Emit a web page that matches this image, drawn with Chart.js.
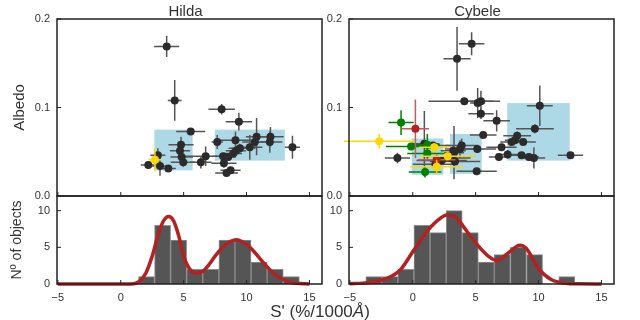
<!DOCTYPE html>
<html>
<head>
<meta charset="utf-8">
<script src="https://cdn.jsdelivr.net/npm/chart.js@4.4.1/dist/chart.umd.min.js"></script>
<style>
  body { margin: 0; background: #fff; }
  #wrap { position: relative; width: 640px; height: 320px; font-family: "Liberation Sans", Arial, sans-serif; }
  #wrap canvas { position: absolute; left: 0; top: 0; }
  #xlabel { position: absolute; left: 0; top: 303px; width: 640px; text-align: center; font-size: 17px; color: #333; line-height: 18px; }
</style>
</head>
<body>
<div id="wrap">
  <canvas id="hilda-top" width="640" height="320"></canvas>
  <canvas id="cybele-top" width="640" height="320"></canvas>
  <canvas id="hilda-hist" width="640" height="320"></canvas>
  <canvas id="cybele-hist" width="640" height="320"></canvas>
  <div id="xlabel">S' (%/1000<i>Å</i>)</div>
</div>
<script>
// tick labels
let sTicks = [-5, 0, 5, 10, 15];
let albedoTicks = [0, 0.1, 0.2];
let countTicks = [0, 5, 10];

// scatter points: [S', albedo, S' error, albedo error]
let hildaDark = [
  [3.65, 0.169, 1.00, 0.012], [4.29, 0.108, 0.55, 0.023], [8.02, 0.098, 1.05, 0.006],
  [9.39, 0.084, 1.05, 0.010], [5.56, 0.073, 1.15, 0.003], [4.79, 0.058, 1.00, 0.009],
  [4.71, 0.051, 0.80, 0.006], [4.84, 0.044, 0.90, 0.005], [4.97, 0.038, 1.00, 0.005],
  [2.19, 0.035, 0.60, 0.004], [3.12, 0.034, 0.70, 0.011], [3.78, 0.031, 0.60, 0.003],
  [2.95, 0.046, 0.60, 0.008], [7.67, 0.061, 0.45, 0.008], [6.75, 0.045, 1.80, 0.011],
  [6.37, 0.038, 0.85, 0.007], [8.14, 0.045, 0.80, 0.004], [8.20, 0.037, 1.00, 0.005],
  [8.41, 0.026, 0.90, 0.003], [8.73, 0.029, 0.80, 0.003], [9.12, 0.063, 1.30, 0.010],
  [8.54, 0.044, 0.60, 0.004], [8.94, 0.048, 0.70, 0.004], [9.15, 0.051, 0.80, 0.005],
  [9.47, 0.054, 0.90, 0.005], [10.26, 0.055, 1.00, 0.014], [10.80, 0.067, 0.85, 0.021],
  [10.66, 0.061, 1.00, 0.008], [11.90, 0.067, 1.05, 0.011], [11.85, 0.061, 1.00, 0.012],
  [13.65, 0.055, 0.60, 0.013]
];
let hildaYellow = [[2.72, 0.041, 0.50, 0.013]];

let cybeleDark = [
  [4.68, 0.172, 1.02, 0.013], [3.52, 0.155, 1.08, 0.036], [4.10, 0.107, 2.85, 0.004],
  [5.16, 0.105, 0.60, 0.017], [5.42, 0.107, 1.00, 0.012], [5.42, 0.093, 1.00, 0.006],
  [6.67, 0.085, 1.06, 0.012], [10.10, 0.102, 1.03, 0.023], [9.71, 0.076, 1.50, 0.005],
  [5.60, 0.069, 1.06, 0.004], [8.30, 0.068, 1.10, 0.005], [8.12, 0.063, 0.80, 0.004],
  [8.78, 0.061, 1.00, 0.004], [7.86, 0.061, 0.90, 0.003], [7.06, 0.055, 1.20, 0.004],
  [5.13, 0.053, 1.50, 0.003], [3.89, 0.057, 1.30, 0.008], [3.75, 0.053, 1.20, 0.010],
  [3.22, 0.051, 1.00, 0.006], [3.28, 0.049, 0.80, 0.030], [7.54, 0.047, 0.90, 0.005],
  [6.85, 0.044, 0.80, 0.004], [8.65, 0.046, 1.00, 0.003], [9.23, 0.044, 0.80, 0.004],
  [9.63, 0.043, 0.90, 0.012], [12.54, 0.046, 1.00, 0.003], [5.08, 0.028, 1.60, 0.003],
  [-1.22, 0.043, 1.00, 0.006], [0.92, 0.059, 1.20, 0.037], [3.10, 0.043, 1.50, 0.004],
  [3.36, 0.039, 2.00, 0.004], [1.60, 0.057, 1.40, 0.004], [2.30, 0.040, 2.00, 0.005],
  [1.80, 0.036, 1.80, 0.004]
];
let cybeleGreen = [
  [-0.93, 0.083, 1.00, 0.014], [-0.13, 0.056, 2.00, 0.004], [1.16, 0.058, 1.00, 0.012],
  [1.16, 0.048, 1.60, 0.006], [0.98, 0.027, 1.30, 0.006]
];
let cybeleRed = [[0.21, 0.076, 1.08, 0.033], [1.90, 0.041, 1.50, 0.006]];
let cybeleYellow = [
  [-2.67, 0.062, 2.80, 0.008], [1.71, 0.055, 1.20, 0.005],
  [2.78, 0.045, 2.20, 0.004], [1.90, 0.033, 2.10, 0.008]
];

// light blue boxes: [S' min, S' max, albedo min, albedo max]
let hildaBoxes = [[2.67, 5.71, 0.029, 0.075], [7.48, 13.04, 0.040, 0.075]];
let cybeleBoxes = [[-0.08, 2.43, 0.024, 0.065], [2.96, 5.48, 0.025, 0.070], [7.51, 12.48, 0.040, 0.105]];

// histograms
let hildaEdges = [1.41, 2.69, 3.96, 5.24, 6.52, 7.80, 9.08, 10.36, 11.64, 12.92, 14.20];
let hildaCounts = [1, 8, 6, 2, 2, 6, 6, 3, 2, 1];
let cybeleEdges = [-3.73, -2.46, -1.19, 0.08, 1.38, 2.65, 3.94, 5.21, 6.48, 7.75, 9.05, 10.32, 11.61, 12.88];
let cybeleCounts = [1, 1, 2, 8, 7, 10, 7, 3, 4, 5, 4, 0, 1];

// density curves
let hildaCurveX = [-5, 0, 1, 1.5, 2, 2.5, 3, 3.4, 3.8, 4.2, 4.6, 5, 5.5, 6, 6.5, 7, 7.5, 8, 8.5, 9.2, 10, 10.5, 11, 11.5, 12, 12.5, 13, 13.5, 14, 15];
let hildaCurveY = [0, 0, 0.05, 0.4, 1.5, 3.8, 6.9, 8.6, 9.2, 8.6, 6.6, 3.8, 2.0, 1.5, 1.7, 2.6, 3.8, 4.8, 5.6, 6.05, 5.4, 4.6, 3.6, 2.6, 1.7, 1.0, 0.55, 0.25, 0.1, 0];
let cybeleCurveX = [-5, -4, -3, -2, -1, 0, 1, 2, 2.7, 3.5, 4, 5, 6, 6.7, 7.5, 8.5, 9, 10, 11, 12, 13, 15];
let cybeleCurveY = [0.05, 0.12, 0.35, 0.8, 1.9, 4.4, 6.9, 8.7, 9.4, 9.0, 7.9, 5.6, 3.8, 3.2, 4.1, 5.3, 4.9, 2.1, 0.6, 0.12, 0.02, 0];

let font = '"Liberation Sans", Arial, sans-serif';
let ink = '#333';

//frame, inward ticks, boxes and panel title
Chart.register({
  id: 'frame',
  beforeDatasetsDraw(chart, args, opts) {
    let ctx = chart.ctx, x = chart.scales.x, y = chart.scales.y;
    ctx.save();
    ctx.fillStyle = '#add8e6';
    (opts.boxes || []).forEach(function(b) {
      let x1 = x.getPixelForValue(b[0]), x2 = x.getPixelForValue(b[1]);
      let y1 = y.getPixelForValue(b[3]), y2 = y.getPixelForValue(b[2]);
      ctx.fillRect(x1, y1, x2 - x1, y2 - y1);
    });
    ctx.restore();
  },
  afterDraw(chart, args, opts) {
    let ctx = chart.ctx, a = chart.chartArea;
    ctx.save();
    ctx.strokeStyle = '#222';
    ctx.lineWidth = 1.5;
    ctx.strokeRect(a.left, a.top, a.right - a.left, a.bottom - a.top);
    ctx.beginPath();
    chart.scales.x.ticks.forEach(function(t) {
      let px = chart.scales.x.getPixelForValue(t.value);
      ctx.moveTo(px, a.bottom);
      ctx.lineTo(px, a.bottom - 4);
    });
    chart.scales.y.ticks.forEach(function(t) {
      let py = chart.scales.y.getPixelForValue(t.value);
      ctx.moveTo(a.left, py);
      ctx.lineTo(a.left + 4, py);
    });
    ctx.lineWidth = 1;
    ctx.stroke();
    if (opts.title) {
      ctx.fillStyle = ink;
      ctx.font = '15px ' + font;
      ctx.textAlign = 'center';
      ctx.textBaseline = 'middle';
      ctx.fillText(opts.title, (a.left + a.right) / 2 - 4, 12);
    }
    ctx.restore();
  }
});

//error bars drawn just under each dataset's points
Chart.register({
  id: 'errorBars',
  beforeDatasetDraw(chart, args) {
    let ds = chart.data.datasets[args.index];
    if (!ds.err) return;
    let ctx = chart.ctx, x = chart.scales.x, y = chart.scales.y;
    ctx.save();
    ctx.strokeStyle = ds.errColor;
    ctx.lineWidth = 1.5;
    ds.err.forEach(function(p) {
      let px = x.getPixelForValue(p[0]), py = y.getPixelForValue(p[1]);
      ctx.beginPath();
      ctx.moveTo(x.getPixelForValue(p[0] - p[2]), py);
      ctx.lineTo(x.getPixelForValue(p[0] + p[2]), py);
      ctx.moveTo(px, y.getPixelForValue(p[1] - p[3]));
      ctx.lineTo(px, y.getPixelForValue(p[1] + p[3]));
      ctx.stroke();
    });
    ctx.restore();
  }
});

let pts = (list) => list.map(p => ({x: p[0], y: p[1]}));
let setTicks = (arr) => function(scale) { scale.ticks = arr.map(v => ({value: v})); };
let minus = (v) => String(v).replace('-', '\u2212');

let pointSet = (list, color, errColor) => ({
  data: pts(list), err: list, errColor: errColor,
  backgroundColor: color, borderWidth: 0, pointRadius: 4
});

function scatterPanel(id, padLeft, padRight, yWidth, title, datasets, boxes, yTitle) {
  new Chart(id, {
    type: 'scatter',
    data: { datasets: datasets },
    options: {
      responsive: false,
      animation: false,
      events: [],
      layout: { padding: { left: padLeft, right: padRight, top: 19, bottom: 124 } },
      plugins: {
        legend: { display: false },
        tooltip: { enabled: false },
        frame: { boxes: boxes, title: title }
      },
      scales: {
        x: { type: 'linear', display: false, min: -5.07, max: 16, afterBuildTicks: setTicks(sTicks) },
        y: {
          min: 0, max: 0.2,
          afterBuildTicks: setTicks(albedoTicks),
          afterFit: function(s) { s.width = yWidth; },
          grid: { display: false, drawTicks: false },
          border: { display: false },
          ticks: { padding: 7, color: ink, font: { family: font, size: 11 }, callback: v => v.toFixed(1) },
          title: { display: !!yTitle, text: yTitle, color: ink, font: { family: font, size: 15 }, padding: { top: 11, bottom: 0 } }
        }
      }
    }
  });
}

function histPanel(id, padLeft, padRight, yWidth, edges, counts, cx, cy, yTitle) {
  let bars = counts.map((n, i) => ({x: (edges[i] + edges[i + 1]) / 2, y: n}));
  let curve = cx.map((v, i) => ({x: v, y: cy[i]}));
  new Chart(id, {
    type: 'bar',
    data: {
      datasets: [
        { type: 'line', data: curve, borderColor: '#b22222', borderWidth: 3.5, pointRadius: 0,
          cubicInterpolationMode: 'monotone', clip: false, order: 0 },
        { type: 'bar', data: bars, backgroundColor: '#555555', borderColor: '#8c8c8c', borderWidth: 1,
          barPercentage: 1, categoryPercentage: 1, order: 1 }
      ]
    },
    options: {
      responsive: false,
      animation: false,
      events: [],
      layout: { padding: { left: padLeft, right: padRight, top: 196, bottom: 16 } },
      plugins: { legend: { display: false }, tooltip: { enabled: false }, frame: {} },
      scales: {
        x: {
          type: 'linear', offset: false, min: -5.07, max: 16,
          afterBuildTicks: setTicks(sTicks),
          afterFit: function(s) { s.height = 20; },
          grid: { display: false, drawTicks: false },
          border: { display: false },
          ticks: { padding: 7, color: ink, maxRotation: 0, font: { family: font, size: 11 }, callback: minus }
        },
        y: {
          min: 0, max: 12,
          afterBuildTicks: setTicks(countTicks),
          afterFit: function(s) { s.width = yWidth; },
          grid: { display: false, drawTicks: false },
          border: { display: false },
          ticks: { padding: 7, color: ink, font: { family: font, size: 11 } },
          title: { display: !!yTitle, text: yTitle, color: ink, font: { family: font, size: 14 }, padding: { top: 9, bottom: 0 } }
        }
      }
    }
  });
}

scatterPanel('hilda-top', 0, 318, 57, 'Hilda', [
  pointSet(hildaYellow, '#ffd700', '#ffd700'),
  pointSet(hildaDark, '#2b2b2b', '#555555')
], hildaBoxes, 'Albedo');

scatterPanel('cybele-top', 322, 26, 27, 'Cybele', [
  pointSet(cybeleYellow, '#ffd700', '#ffd700'),
  pointSet(cybeleRed, '#b22222', '#c85a5a'),
  pointSet(cybeleGreen, '#008000', '#008000'),
  pointSet(cybeleDark, '#2b2b2b', '#555555')
], cybeleBoxes, '');

histPanel('hilda-hist', 0, 318, 57, hildaEdges, hildaCounts, hildaCurveX, hildaCurveY, 'Nº of objects');
histPanel('cybele-hist', 322, 26, 27, cybeleEdges, cybeleCounts, cybeleCurveX, cybeleCurveY, '');
</script>
</body>
</html>
